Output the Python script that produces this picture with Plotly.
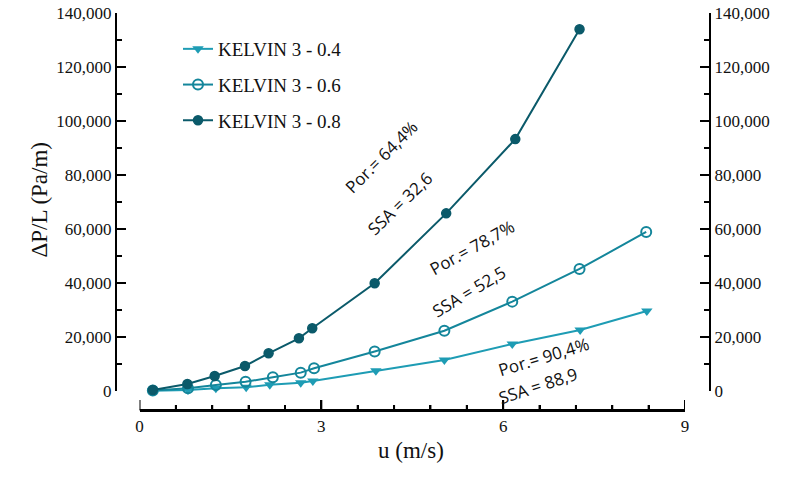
import plotly.graph_objects as go

# ---- data ----
u_04 = [0.22, 0.80, 1.26, 1.76, 2.15, 2.66, 2.86, 3.90, 5.03, 6.15, 7.27, 8.37]
dp_04 = [100, 400, 1000, 1400, 2300, 3100, 3700, 7500, 11500, 17400, 22600, 29600]

u_06 = [0.22, 0.80, 1.26, 1.75, 2.20, 2.66, 2.88, 3.88, 5.03, 6.15, 7.26, 8.36]
dp_06 = [200, 1000, 2200, 3400, 5100, 6800, 8400, 14600, 22300, 33100, 45200, 58900]

u_08 = [0.22, 0.79, 1.24, 1.74, 2.13, 2.63, 2.85, 3.88, 5.06, 6.20, 7.26]
dp_08 = [370, 2590, 5560, 9260, 13960, 19520, 23220, 39890, 65800, 93300, 134000]

names = ["KELVIN 3 - 0.4", "KELVIN 3 - 0.6", "KELVIN 3 - 0.8"]
y_ticks = [0, 20000, 40000, 60000, 80000, 100000, 120000, 140000]
x_ticks = [0, 3, 6, 9]
x_minor_step = 0.6

notes = [
    ("Por.= 64,4%", 3.99, 87000, -45),
    ("SSA = 32,6", 4.29, 69500, -44),
    ("Por.= 78,7%", 5.48, 53300, -29),
    ("SSA = 52,5", 5.43, 37000, -31),
    ("Por.= 90,4%", 6.68, 12600, -17),
    ("SSA = 88,9", 6.58, 2200, -18),
]

c_light = "#1e9cb4"
c_mid = "#14869b"
c_dark = "#0b5a6a"

W, H = 786, 483
x0_px, x9_px = 139.5, 685
ytop_px, y0_px = 13, 391
xaxis_px = 410
Y_MAX = 140000
X_MAX = 9
# data axis extends below 0 so that the x axis line sits detached below the y axes
y_low = -Y_MAX * (xaxis_px - y0_px) / (y0_px - ytop_px)

serif = "Times New Roman, Liberation Serif, DejaVu Serif, serif"
sans = "Open Sans, Noto Sans, sans-serif"

fig = go.Figure()
# helper traces so that the left/right value axes are drawn
for ax in ("y", "y2"):
    fig.add_trace(go.Scatter(x=u_08, y=dp_08, yaxis=ax, mode="lines",
                             line=dict(color="rgba(0,0,0,0)"), showlegend=False, hoverinfo="skip"))

fig.add_trace(go.Scatter(x=u_04, y=dp_04, name=names[0], mode="lines+markers", yaxis="y3",
                         line=dict(color=c_light, width=2),
                         marker=dict(symbol="triangle-down", size=10, color=c_light),
                         legendgroup="a"))
fig.add_trace(go.Scatter(x=u_06, y=dp_06, name=names[1], mode="lines+markers", yaxis="y3",
                         line=dict(color=c_mid, width=2),
                         marker=dict(symbol="circle-open", size=10, color=c_mid, line=dict(width=2)),
                         legendgroup="b"))
fig.add_trace(go.Scatter(x=u_08, y=dp_08, name=names[2], mode="lines+markers", yaxis="y3",
                         line=dict(color=c_dark, width=2),
                         marker=dict(symbol="circle", size=9, color=c_dark,
                                     line=dict(width=1.5, color=c_dark)),
                         legendgroup="c"))

for text, xv, yv, ang in notes:
    fig.add_annotation(x=xv, y=yv, xref="x", yref="y3", text=text, showarrow=False,
                       textangle=ang, font=dict(family=sans, size=17, color="#111111"))

fig.add_annotation(x=411 / W, y=1 - 465 / H, xref="paper", yref="paper", text="u (m/s)",
                   showarrow=False, font=dict(family=serif, size=23, color="#111111"))
fig.add_annotation(x=25 / W, y=1 - 200 / H, xref="paper", yref="paper", text="ΔP/L (Pa/m)",
                   showarrow=False, textangle=-90, font=dict(family=serif, size=23, color="#111111"))

# detached x-axis baseline and tick marks (in x data units)
y_line = 1 - xaxis_px / H
fig.add_shape(type="line", xref="x", yref="paper", x0=0, x1=X_MAX, y0=y_line, y1=y_line,
              line=dict(color="black", width=2), layer="above")
n_minor = int(round(X_MAX / x_minor_step))
for i in range(n_minor + 1):
    xv = i * x_minor_step
    is_major = any(abs(xv - t) < 1e-9 for t in x_ticks)
    if is_major:
        continue
    fig.add_shape(type="line", xref="x", yref="paper", x0=xv, x1=xv,
                  y0=y_line, y1=y_line + 5 / H, line=dict(color="black", width=2), layer="above")
for t in x_ticks:
    fig.add_shape(type="line", xref="x", yref="paper", x0=t, x1=t,
                  y0=y_line, y1=y_line + 10 / H, line=dict(color="black", width=2), layer="above")

axis_common = dict(showgrid=False, zeroline=False, showline=True, linecolor="black", linewidth=2,
                   ticks="inside", tickcolor="black", tickwidth=2,
                   tickfont=dict(family=serif, size=17, color="#111111"))
yminor = dict(dtick=10000, tick0=0, ticklen=5, tickwidth=2, tickcolor="black", ticks="inside")

fig.update_layout(
    width=W, height=H,
    margin=dict(l=0, r=0, t=0, b=0, autoexpand=False),
    paper_bgcolor="white", plot_bgcolor="white",
    font=dict(family=serif),
    xaxis=dict(domain=[x0_px / W, x9_px / W], range=[0, X_MAX], tickvals=x_ticks,
               anchor="y3", ticklen=10,
               minor=dict(dtick=x_minor_step, tick0=0, ticklen=5, tickwidth=2, tickcolor="black", ticks="inside"),
               **axis_common),
    yaxis=dict(domain=[1 - y0_px / H, 1 - ytop_px / H], range=[0, Y_MAX], tickvals=y_ticks,
               tickformat=",d", anchor="free", position=116 / W, ticklen=9, side="left",
               minor=yminor, **axis_common),
    yaxis2=dict(domain=[1 - y0_px / H, 1 - ytop_px / H], range=[0, Y_MAX], tickvals=y_ticks,
                tickformat=",d", anchor="free", position=710 / W, ticklen=9, side="right",
                overlaying="y", minor=yminor, **axis_common),
    yaxis3=dict(domain=[1 - xaxis_px / H, 1 - ytop_px / H], range=[y_low, Y_MAX], visible=False,
                anchor="x", showgrid=False, zeroline=False),
    legend=dict(x=178 / W, y=1 - 30 / H, xanchor="left", yanchor="top",
                bgcolor="rgba(0,0,0,0)", tracegroupgap=8,
                font=dict(family=serif, size=19, color="#111111")),
    showlegend=True,
)

fig.write_html("out.html")
